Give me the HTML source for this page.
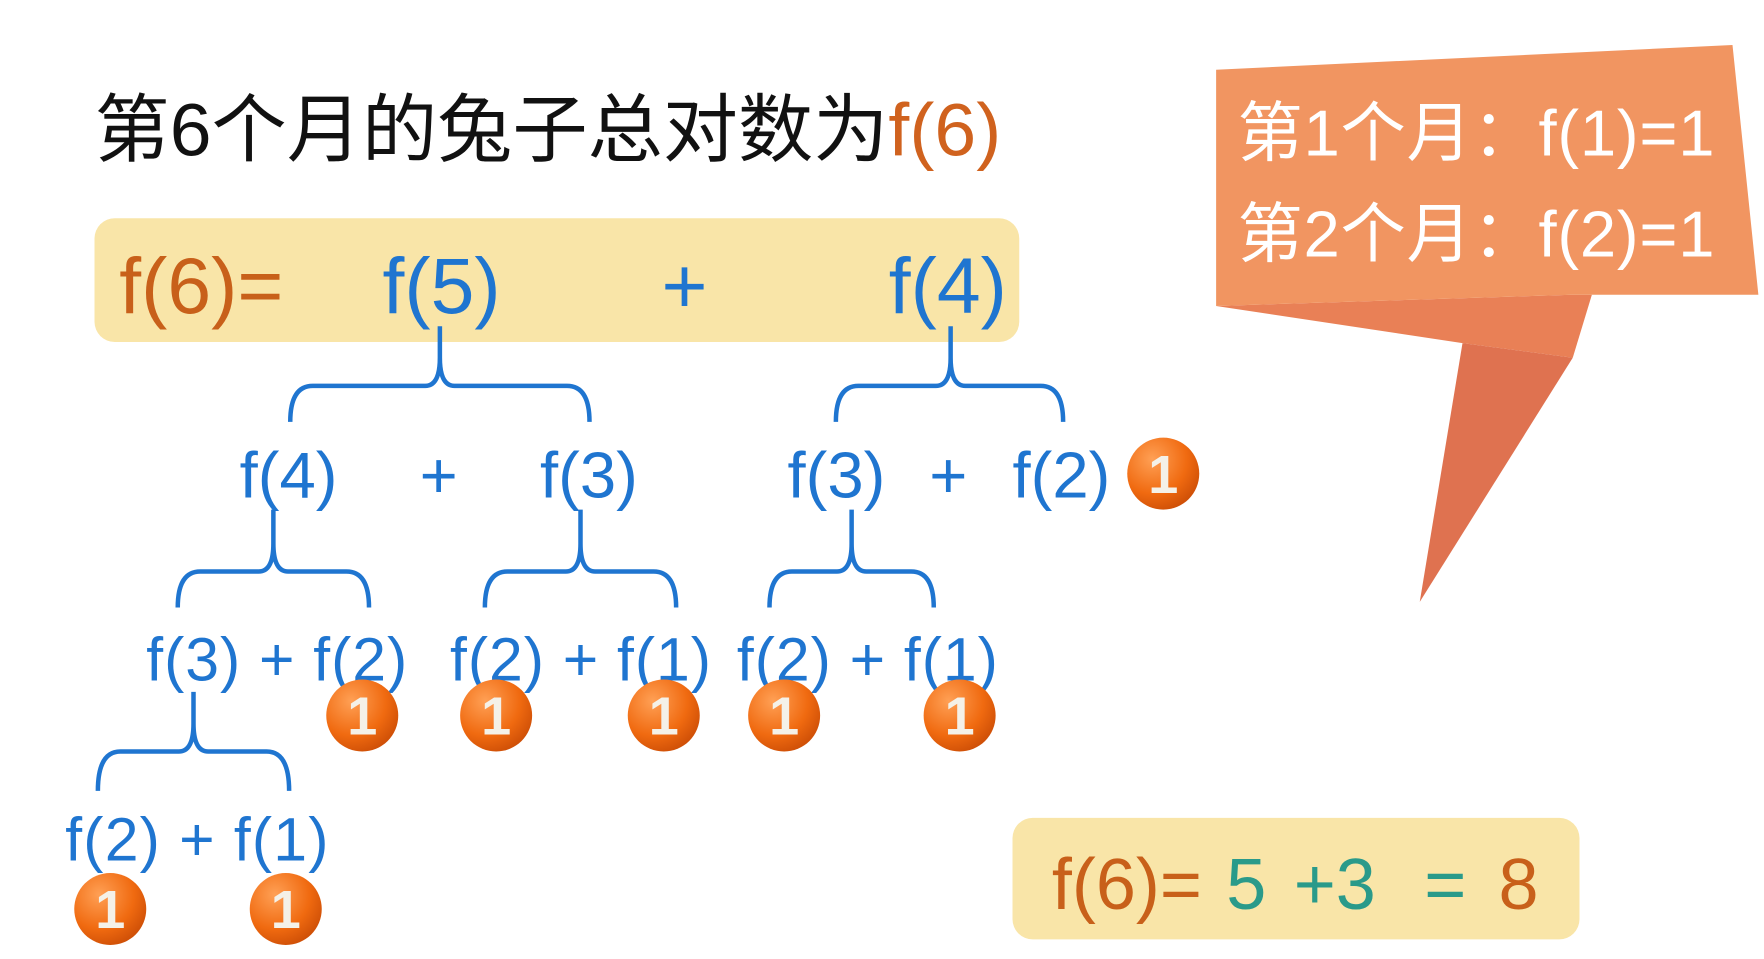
<!DOCTYPE html>
<html><head><meta charset="utf-8"><style>
html,body{margin:0;padding:0;background:#fff;width:1764px;height:959px;overflow:hidden}
svg{display:block}
text{font-family:"Liberation Sans","Noto Sans CJK SC",sans-serif}
</style></head><body>
<svg width="1764" height="959" viewBox="0 0 1568 852.44" xmlns="http://www.w3.org/2000/svg">
<defs>
<radialGradient id="cg" cx="0.35" cy="0.3" r="0.8">
<stop offset="0" stop-color="#ffa055"/><stop offset="0.6" stop-color="#f06a10"/><stop offset="1" stop-color="#c84a05"/>
</radialGradient>
<g id="coin"><circle r="32" fill="url(#cg)"/><text x="0" y="17" text-anchor="middle" font-size="48" font-weight="bold" fill="#f4f1e8">1</text></g>
</defs>
<!-- title -->
<text x="84" y="138" font-size="66" fill="#111" textLength="806" lengthAdjust="spacingAndGlyphs">第6个月的兔子总对数为<tspan fill="#d0621e">f(6)</tspan></text>
<!-- box 1 -->
<rect x="84" y="194" width="822" height="110" rx="18" fill="#f9e5a8"/>
<g font-size="70" fill="#1f75d0">
<text x="106" y="278" fill="#c8601a">f(6)=</text>
<text x="340" y="278">f(5)</text>
<text x="588" y="278">+</text>
<text x="790" y="278">f(4)</text>
</g>
<!-- braces -->
<g fill="none" stroke="#1f75d0" stroke-width="4">
<path d="M258 375 Q258 343 278 343 H378 Q391 343 391 318 V290 M391 318 Q391 343 404 343 H504 Q524 343 524 375"/>
<path d="M743 375 Q743 343 763 343 H832 Q845 343 845 318 V290 M845 318 Q845 343 858 343 H925 Q945 343 945 375"/>
<path d="M158 540 Q158 508 178 508 H230 Q243 508 243 483 V453 M243 483 Q243 508 256 508 H308 Q328 508 328 540"/>
<path d="M431 540 Q431 508 451 508 H503 Q516 508 516 483 V453 M516 483 Q516 508 529 508 H581 Q601 508 601 540"/>
<path d="M684 540 Q684 508 704 508 H744 Q757 508 757 483 V453 M757 483 Q757 508 770 508 H810 Q830 508 830 540"/>
<path d="M87 703 Q87 668 107 668 H159 Q172 668 172 643 V615 M172 643 Q172 668 185 668 H237 Q257 668 257 703"/>
</g>
<g font-size="58" fill="#1f75d0">
<text x="213" y="442">f(4)</text>
<text x="373" y="442">+</text>
<text x="480" y="442">f(3)</text>
<text x="700" y="442">f(3)</text>
<text x="826" y="442">+</text>
<text x="900" y="442">f(2)</text>
</g>
<g font-size="54" fill="#1f75d0">
<text x="130" y="605" textLength="232" lengthAdjust="spacing">f(3) + f(2)</text>
<text x="400" y="605" textLength="232" lengthAdjust="spacing">f(2) + f(1)</text>
<text x="655" y="605" textLength="232" lengthAdjust="spacing">f(2) + f(1)</text>
<text x="58" y="765" textLength="234" lengthAdjust="spacing">f(2) + f(1)</text>
</g>
<use href="#coin" x="1034" y="421"/>
<use href="#coin" x="322" y="636"/>
<use href="#coin" x="441" y="636"/>
<use href="#coin" x="590" y="636"/>
<use href="#coin" x="697" y="636"/>
<use href="#coin" x="853" y="636"/>
<use href="#coin" x="98" y="808"/>
<use href="#coin" x="254" y="808"/>
<!-- box 2 -->
<rect x="900" y="727" width="504" height="108" rx="18" fill="#f9e5a8"/>
<g font-size="64">
<text x="935" y="808" fill="#c8601a">f(6)=</text>
<text x="1090" y="808" fill="#2a9a8a">5</text>
<text x="1150" y="808" fill="#2a9a8a">+3</text>
<text x="1266" y="808" fill="#2a9a8a">=</text>
<text x="1332" y="808" fill="#c8601a">8</text>
</g>
<!-- callout -->
<polygon points="1081,272 1398,262 1415,262 1398,318 1300,305" fill="#e98056"/>
<polygon points="1300,305 1398,318 1262,535" fill="#df7250"/>
<polygon points="1081,62 1540,40 1563,262 1415,262 1398,262 1081,272" fill="#f19561"/>
<g font-size="58" fill="#fff">
<text x="1100" y="138" textLength="424" lengthAdjust="spacing">第1个月：f(1)=1</text>
<text x="1100" y="228" textLength="424" lengthAdjust="spacing">第2个月：f(2)=1</text>
</g>
</svg>
</body></html>
